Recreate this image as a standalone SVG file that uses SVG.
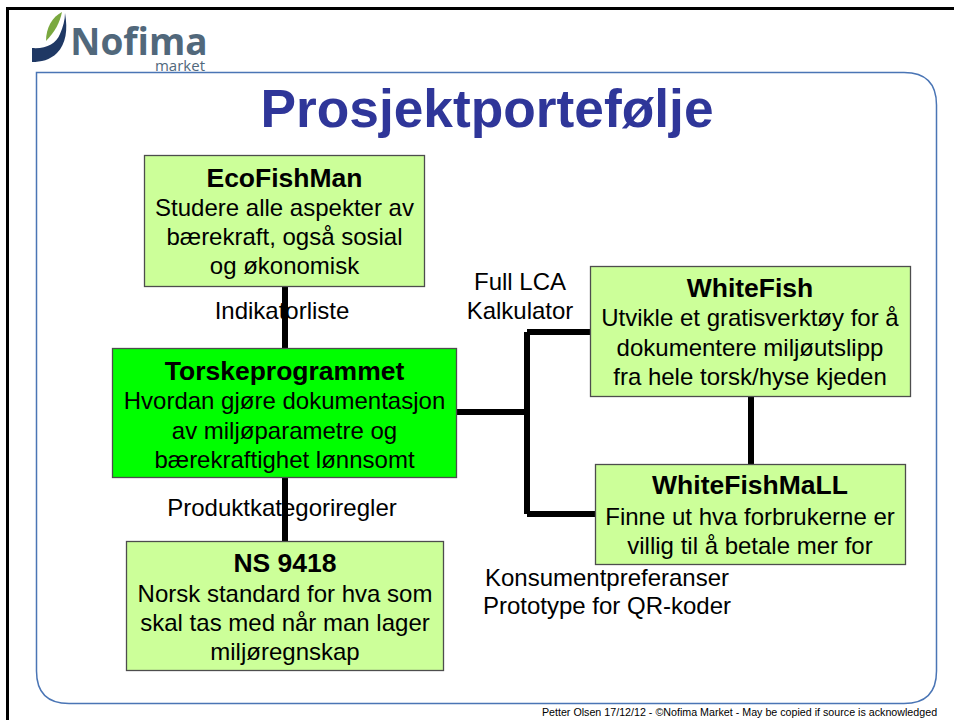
<svg xmlns="http://www.w3.org/2000/svg" width="954" height="720" viewBox="0 0 954 720">
<style>
text{font-family:"Liberation Sans",Arial,sans-serif;fill:#000;text-anchor:middle}
.t{font-size:24px}
.h{font-size:26.500px;font-weight:bold}
.box{stroke:#4d4d4d;stroke-width:1.3}
.c{stroke:#000;stroke-width:6;fill:none}
</style>
<rect width="954" height="720" fill="#fff"/>
<path d="M7.5 720V8.5H954" fill="none" stroke="#000" stroke-width="3"/>
<path d="M36.5 72.5H904Q936.500 72.500 936.500 105V671Q936.500 703.500 904 703.500H69Q36.500 703.500 36.500 671Z" fill="none" stroke="#4a75b5" stroke-width="1.500"/>
<g id="logo">
<path d="M32 48C46 49 56 44 60 34C63 27 65 20 65 13C68 30 66 44 57 53C50 60 41 62 32 62Z" fill="#1f3864"/>
<path d="M46 41C46 28 52 17 62 12C60 22 55 32 46 41Z" fill="#7aa83f"/>
<text x="139" y="55" style="font-family:'Open Sans','Liberation Sans',sans-serif;font-size:37px;font-weight:bold;fill:#51687b">Nofima</text>
<text x="180" y="71" style="font-family:'Open Sans','Liberation Sans',sans-serif;font-size:15px;fill:#51687b">market</text>
</g>
<text x="487" y="127" style="font-size:53.300px;font-weight:bold;fill:#2f3699">Prosjektportefølje</text>
<g id="connectors">
<path class="c" d="M285 287V348M285 478V541M457 412H527M527 332V514M527 332H590M527 514H595M751 397V464"/>
</g>
<g id="ecofishman">
<rect class="box" x="144.500" y="155.500" width="280" height="131" fill="#ccff99"/>
<text class="h" x="284.500" y="187">EcoFishMan</text>
<text class="t" x="284.500" y="216">Studere alle aspekter av</text>
<text class="t" x="284.500" y="245">bærekraft, også sosial</text>
<text class="t" x="284.500" y="274">og økonomisk</text>
</g>
<g id="torskeprogrammet">
<rect class="box" x="112.500" y="348.500" width="344" height="129" fill="#00ff00"/>
<text class="h" x="284.500" y="380">Torskeprogrammet</text>
<text class="t" x="284.500" y="409">Hvordan gjøre dokumentasjon</text>
<text class="t" x="284.500" y="439">av miljøparametre og</text>
<text class="t" x="284.500" y="468">bærekraftighet lønnsomt</text>
</g>
<g id="ns9418">
<rect class="box" x="126.500" y="541.500" width="317" height="129" fill="#ccff99"/>
<text class="h" x="285" y="572">NS 9418</text>
<text class="t" x="285" y="602">Norsk standard for hva som</text>
<text class="t" x="285" y="631">skal tas med når man lager</text>
<text class="t" x="285" y="660">miljøregnskap</text>
</g>
<g id="whitefish">
<rect class="box" x="590.500" y="266.500" width="320" height="130" fill="#ccff99"/>
<text class="h" x="750" y="297">WhiteFish</text>
<text class="t" x="750" y="326">Utvikle et gratisverktøy for å</text>
<text class="t" x="750" y="356">dokumentere miljøutslipp</text>
<text class="t" x="750" y="385">fra hele torsk/hyse kjeden</text>
</g>
<g id="whitefishmall">
<rect class="box" x="595.500" y="464.500" width="310" height="100" fill="#ccff99"/>
<text class="h" x="750" y="494">WhiteFishMaLL</text>
<text class="t" x="750" y="525">Finne ut hva forbrukerne er</text>
<text class="t" x="750" y="554">villig til å betale mer for</text>
</g>
<g id="labels">
<text class="t" x="282" y="319">Indikatorliste</text>
<text class="t" x="282" y="516">Produktkategoriregler</text>
<text class="t" x="520" y="290">Full LCA</text>
<text class="t" x="520" y="319">Kalkulator</text>
<text class="t" x="607" y="586">Konsumentpreferanser</text>
<text class="t" x="607" y="614">Prototype for QR-koder</text>
<text x="739.500" y="716" style="font-size:10.700px">Petter Olsen 17/12/12 - ©Nofima Market - May be copied if source is acknowledged</text>
</g>
</svg>
